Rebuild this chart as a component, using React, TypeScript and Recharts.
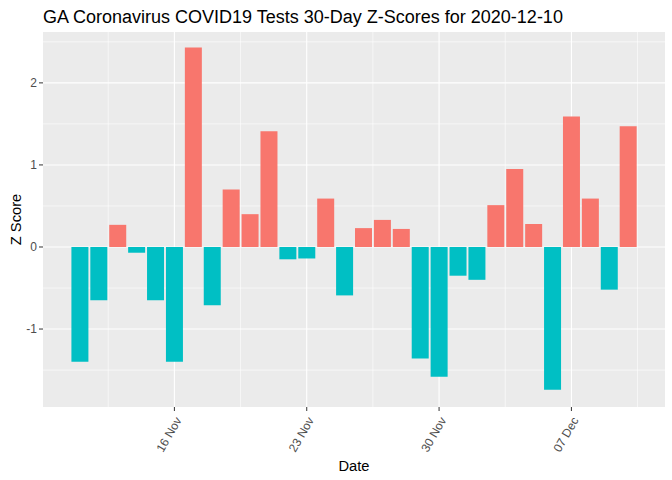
import { BarChart, Bar, XAxis, YAxis, CartesianGrid, Cell, Label } from 'recharts'

// GA COVID19 tests, 30-day z-scores ending 2020-12-10 (one bar per day)
const dates = [
  '2020-11-11', '2020-11-12', '2020-11-13', '2020-11-14', '2020-11-15',
  '2020-11-16', '2020-11-17', '2020-11-18', '2020-11-19', '2020-11-20',
  '2020-11-21', '2020-11-22', '2020-11-23', '2020-11-24', '2020-11-25',
  '2020-11-26', '2020-11-27', '2020-11-28', '2020-11-29', '2020-11-30',
  '2020-12-01', '2020-12-02', '2020-12-03', '2020-12-04', '2020-12-05',
  '2020-12-06', '2020-12-07', '2020-12-08', '2020-12-09', '2020-12-10',
]
const zScores = [
  -1.4, -0.65, 0.27, -0.07, -0.65,
  -1.4, 2.43, -0.71, 0.7, 0.4,
  1.41, -0.15, -0.14, 0.59, -0.59,
  0.23, 0.33, 0.22, -1.36, -1.58,
  -0.35, -0.4, 0.51, 0.95, 0.28,
  -1.74, 1.59, 0.59, -0.52, 1.47,
]

// day index from 2020-11-11
const xTicks = [5, 12, 19, 26]
const xTickLabels = ['16 Nov', '23 Nov', '30 Nov', '07 Dec']
const xMinor = [1.5, 8.5, 15.5, 22.5, 29.5]
const yTicks = [-1, 0, 1, 2]
const yMinor = [-1.5, -0.5, 0.5, 1.5, 2.5]

const data = dates.map((d, i) => ({ day: i, date: d, z: zScores[i] }))

const FONT = '"Liberation Sans", Arial, sans-serif'
const POS = '#F8766D'
const NEG = '#00BFC4'

function DateTick({ x, y, payload }: any) {
  const label = xTickLabels[xTicks.indexOf(payload.value)] ?? ''
  const ax = x + 4
  const ay = y + 5
  return (
    <text
      x={ax}
      y={ay}
      dy="0.35em"
      transform={`rotate(-60 ${ax} ${ay})`}
      textAnchor="end"
      fill="#4D4D4D"
      fontSize={12}
      fontFamily={FONT}
    >
      {label}
    </text>
  )
}

export default function App() {
  return (
    <div style={{ position: 'absolute', left: 0, top: 0, width: 672, height: 480, background: '#fff' }}>
      <div
        style={{
          position: 'absolute',
          left: 43,
          top: 8,
          fontFamily: FONT,
          fontSize: 18,
          lineHeight: '18px',
          color: '#000',
          whiteSpace: 'nowrap',
        }}
      >
        GA Coronavirus COVID19 Tests 30-Day Z-Scores for 2020-12-10
      </div>
      <BarChart
        width={672}
        height={480}
        data={data}
        margin={{ top: 32, right: 7, left: 0, bottom: 0 }}
        barSize={17}
      >
        <CartesianGrid fill="#EBEBEB" stroke="#fff" strokeWidth={1.1} horizontalValues={yTicks} verticalValues={xTicks} />
        <CartesianGrid fill="none" stroke="#fff" strokeWidth={0.6} horizontalValues={yMinor} verticalValues={xMinor} />
        <XAxis
          type="number"
          dataKey="day"
          domain={[-1.95, 30.95]}
          allowDataOverflow
          ticks={xTicks}
          interval={0}
          height={73}
          axisLine={false}
          tickLine={{ stroke: '#333' }}
          tickSize={4}
          tick={<DateTick />}
        >
          <Label
            content={({ viewBox }: any) => (
              <text
                x={viewBox.x + viewBox.width / 2}
                y={471}
                textAnchor="middle"
                fontSize={14.7}
                fontFamily={FONT}
                fill="#000"
              >
                Date
              </text>
            )}
          />
        </XAxis>
        <YAxis
          type="number"
          domain={[-1.95, 2.62]}
          allowDataOverflow
          ticks={yTicks}
          width={43}
          axisLine={false}
          tickLine={{ stroke: '#333' }}
          tickSize={4}
          tick={{ fill: '#4D4D4D', fontSize: 12, fontFamily: FONT }}
        >
          <Label
            content={({ viewBox }: any) => {
              const cy = viewBox.y + viewBox.height / 2
              return (
                <text
                  x={21}
                  y={cy}
                  transform={`rotate(-90 21 ${cy})`}
                  textAnchor="middle"
                  fontSize={14.7}
                  fontFamily={FONT}
                  fill="#000"
                >
                  Z Score
                </text>
              )
            }}
          />
        </YAxis>
        <Bar dataKey="z" isAnimationActive={false}>
          {data.map((d) => (
            <Cell key={d.date} fill={d.z >= 0 ? POS : NEG} />
          ))}
        </Bar>
      </BarChart>
    </div>
  )
}
